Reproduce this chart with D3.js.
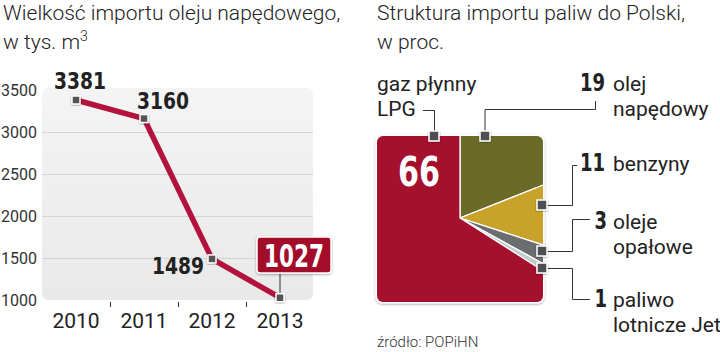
<!DOCTYPE html>
<html><head><meta charset="utf-8">
<script src="https://cdn.jsdelivr.net/npm/d3@7"></script>
<style>
html,body{margin:0;padding:0;background:#fff;}
svg{display:block;}
</style></head>
<body>
<script>
// ---- data ----
const years = ["2010", "2011", "2012", "2013"];
const importValues = [3381, 3160, 1489, 1027];
const yTicks = [1000, 1500, 2000, 2500, 3000, 3500];
const gridTicks = [1500, 2000, 2500, 3000];

const fuelNames = ["olej napędowy", "benzyny", "oleje opałowe", "paliwo lotnicze Jet", "gaz płynny LPG"];
const fuelShares = [19, 11, 3, 1, 66];
const fuelColors = ["#6b6a29", "#c9a229", "#6c6d71", "#c2cbca", "#a5102d"];

// ---- setup ----
const W = 720, H = 352;
const svg = d3.select("body").append("svg").attr("width", W).attr("height", H);
const lightFont = "Roboto, 'Liberation Sans', sans-serif";
const boldFont = "'DejaVu Sans Condensed', 'Liberation Sans Narrow', sans-serif";

const defs = svg.append("defs");
const grad = defs.append("linearGradient").attr("id", "bg").attr("x1", 0).attr("y1", 0).attr("x2", 0).attr("y2", 1);
grad.append("stop").attr("offset", "0%").attr("stop-color", "#f4f4f4");
grad.append("stop").attr("offset", "100%").attr("stop-color", "#e9e9e9");
const sh = defs.append("filter").attr("id", "sh").attr("x", "-20%").attr("y", "-20%").attr("width", "140%").attr("height", "140%");
sh.append("feDropShadow").attr("dx", 0).attr("dy", 1).attr("stdDeviation", 1.2).attr("flood-color", "#000").attr("flood-opacity", 0.35);

// helper: condensed bold number, width per digit
function boldNum(sel, size, perDigit) {
  return sel.attr("font-family", boldFont).attr("font-weight", 700).attr("font-size", size)
    .attr("lengthAdjust", "spacingAndGlyphs")
    .attr("textLength", function () { return String(d3.select(this).text()).length * perDigit; });
}

// ---- titles ----
function title(x, lines) {
  const t = svg.append("text").attr("font-family", lightFont).attr("font-weight", 300)
    .attr("font-size", 21).attr("fill", "#222");
  lines.forEach((l, i) => {
    const ts = t.append("tspan").attr("x", x).attr("y", 20 + i * 29);
    if (Array.isArray(l)) {
      ts.text(l[0]);
      ts.append("tspan").attr("font-size", 14).attr("dy", -8).text(l[1]);
    } else ts.text(l);
  });
}
title(3, ["Wielkość importu oleju napędowego,", ["w tys. m", "3"]]);
title(377, ["Struktura importu paliw do Polski,", "w proc."]);

// ---- line chart ----
const x = d3.scaleBand().domain(years).range([42, 314]);
const y = d3.scaleLinear().domain([1000, 3500]).range([300, 90]);

svg.append("rect").attr("x", 42).attr("y", 88).attr("width", 271).attr("height", 212)
  .attr("rx", 6).attr("fill", "url(#bg)");
svg.append("g").selectAll("line").data(gridTicks).join("line")
  .attr("x1", 42).attr("x2", 313).attr("y1", d => Math.round(y(d)) + 0.5).attr("y2", d => Math.round(y(d)) + 0.5)
  .attr("stroke", "#d4d4d4").attr("stroke-width", 1.2);

// y labels
svg.append("g").selectAll("text").data(yTicks).join("text")
  .attr("x", 37).attr("y", d => y(d) + 6).attr("text-anchor", "end")
  .attr("font-family", lightFont).attr("font-size", 16).attr("fill", "#333").text(d => d);

// x axis
const xAxis = d3.axisBottom(x).tickSize(0).tickPadding(0);
const gx = svg.append("g").attr("transform", "translate(0,300)").call(xAxis);
gx.select(".domain").remove();
gx.selectAll("text").attr("font-family", lightFont).attr("font-size", 21).attr("fill", "#222")
  .attr("dy", 0).attr("y", 28);
// separators between categories
svg.append("g").selectAll("line").data(years.slice(1)).join("line")
  .attr("x1", d => x(d) + 0.5).attr("x2", d => x(d) + 0.5).attr("y1", 302).attr("y2", 307)
  .attr("stroke", "#333").attr("stroke-width", 1);

const pts = years.map((yr, i) => ({ yr, v: importValues[i] }));
const px = d => x(d.yr) + x.bandwidth() / 2;
svg.append("path").datum(pts)
  .attr("d", d3.line().x(px).y(d => y(d.v)))
  .attr("fill", "none").attr("stroke", "#b3123c").attr("stroke-width", 5.5).attr("stroke-linejoin", "round");

// callout line for last point
const last = pts[pts.length - 1];
svg.append("line").attr("x1", px(last)).attr("x2", px(last)).attr("y1", y(last.v)).attr("y2", 273)
  .attr("stroke", "#333").attr("stroke-width", 1);

svg.append("g").selectAll("rect").data(pts).join("rect")
  .attr("x", d => px(d) - 4).attr("y", d => y(d.v) - 4).attr("width", 8).attr("height", 8)
  .attr("fill", "#555").attr("stroke", "#fff").attr("stroke-width", 1.5).attr("filter", "url(#sh)");

// value labels (layout offsets per point)
const labelOffsets = [[4, -11], [19, -10], [-34, 15]];
svg.append("g").selectAll("text").data(pts.slice(0, 3)).join("text")
  .attr("x", (d, i) => px(d) + labelOffsets[i][0]).attr("y", (d, i) => y(d.v) + labelOffsets[i][1])
  .attr("text-anchor", "middle").attr("fill", "#222").text(d => d.v)
  .call(s => boldNum(s, 23, 13));

const bx = px(last) + 14;
svg.append("rect").attr("x", bx - 37).attr("y", 237).attr("width", 74).attr("height", 36).attr("rx", 3)
  .attr("fill", "#a3102b").attr("stroke", "#fff").attr("stroke-width", 1.5).attr("filter", "url(#sh)");
svg.append("text").attr("x", bx).attr("y", 267).attr("text-anchor", "middle")
  .attr("fill", "#fff").text(last.v).call(s => boldNum(s, 32, 15));

// ---- pie chart ----
const cx = 460, cy = 218;
const box = { x: 377, y: 136, w: 166, h: 166 };
defs.append("clipPath").attr("id", "pieclip").append("rect")
  .attr("x", box.x).attr("y", box.y).attr("width", box.w).attr("height", box.h).attr("rx", 6);

svg.append("rect").attr("x", box.x - 1.5).attr("y", box.y - 1.5).attr("width", box.w + 3).attr("height", box.h + 3)
  .attr("rx", 7).attr("fill", "#fff").attr("filter", "url(#sh)");

const pieData = d3.pie().sort(null).value(d => d.v)(fuelNames.map((n, i) => ({ n, v: fuelShares[i], c: fuelColors[i] })));
const arc = d3.arc().innerRadius(0).outerRadius(200);
svg.append("g").attr("clip-path", "url(#pieclip)")
  .append("g").attr("transform", `translate(${cx},${cy})`)
  .selectAll("path").data(pieData).join("path")
  .attr("d", arc).attr("fill", d => d.data.c).attr("stroke", "#fff").attr("stroke-width", 1.3);

svg.append("text").attr("x", 419).attr("y", 186).attr("text-anchor", "middle")
  .attr("fill", "#fff").text(fuelShares[4]).call(s => boldNum(s, 40, 21));

// annotations: leader lines, markers, labels (layout)
const ann = [
  { i: 0, m: [485, 136], path: [[485, 136], [485, 109.5], [595.5, 109.5], [595.5, 101]], num: [605, 91], lines: ["olej", "napędowy"] },
  { i: 1, m: [542, 205], path: [[542, 205.5], [572.5, 205.5], [572.5, 165.5], [577, 165.5]], num: [605, 171], lines: ["benzyny"] },
  { i: 2, m: [542, 251], path: [[542, 251.5], [572.5, 251.5], [572.5, 219.5], [590, 219.5]], num: [607, 229], lines: ["oleje", "opałowe"] },
  { i: 3, m: [542, 268], path: [[542, 268.5], [572.5, 268.5], [572.5, 299.5], [590, 299.5]], num: [607, 307], lines: ["paliwo", "lotnicze Jet"] },
  { i: 4, m: [434, 136], path: [[423, 110.5], [434.5, 110.5], [434.5, 136]], num: null, lines: [] }
];
const lineGen = d3.line();
ann.forEach(a => {
  svg.append("path").attr("d", lineGen(a.path)).attr("fill", "none").attr("stroke", "#333").attr("stroke-width", 1);
});
ann.forEach(a => {
  svg.append("rect").attr("x", a.m[0] - 5).attr("y", a.m[1] - 5).attr("width", 10).attr("height", 10)
    .attr("fill", "#4e5054").attr("stroke", "#fff").attr("stroke-width", 1.5).attr("filter", "url(#sh)");
  if (a.num) {
    svg.append("text").attr("x", a.num[0]).attr("y", a.num[1]).attr("text-anchor", "end")
      .attr("fill", "#222").text(fuelShares[a.i]).call(s => boldNum(s, 24, 12.5));
    const t = svg.append("text").attr("font-family", lightFont).attr("font-size", 21).attr("fill", "#222");
    a.lines.forEach((l, k) => t.append("tspan").attr("x", 613).attr("y", a.num[1] + k * 25).text(l));
  }
});
// LPG label
const lpg = svg.append("text").attr("font-family", lightFont).attr("font-size", 21).attr("fill", "#222");
lpg.append("tspan").attr("x", 377).attr("y", 91).text("gaz płynny");
lpg.append("tspan").attr("x", 377).attr("y", 116).text("LPG");

// source
svg.append("text").attr("x", 377).attr("y", 347).attr("font-family", lightFont).attr("font-weight", 300)
  .attr("font-size", 15).attr("fill", "#333").text("źródło: POPiHN");
</script>
</body></html>
